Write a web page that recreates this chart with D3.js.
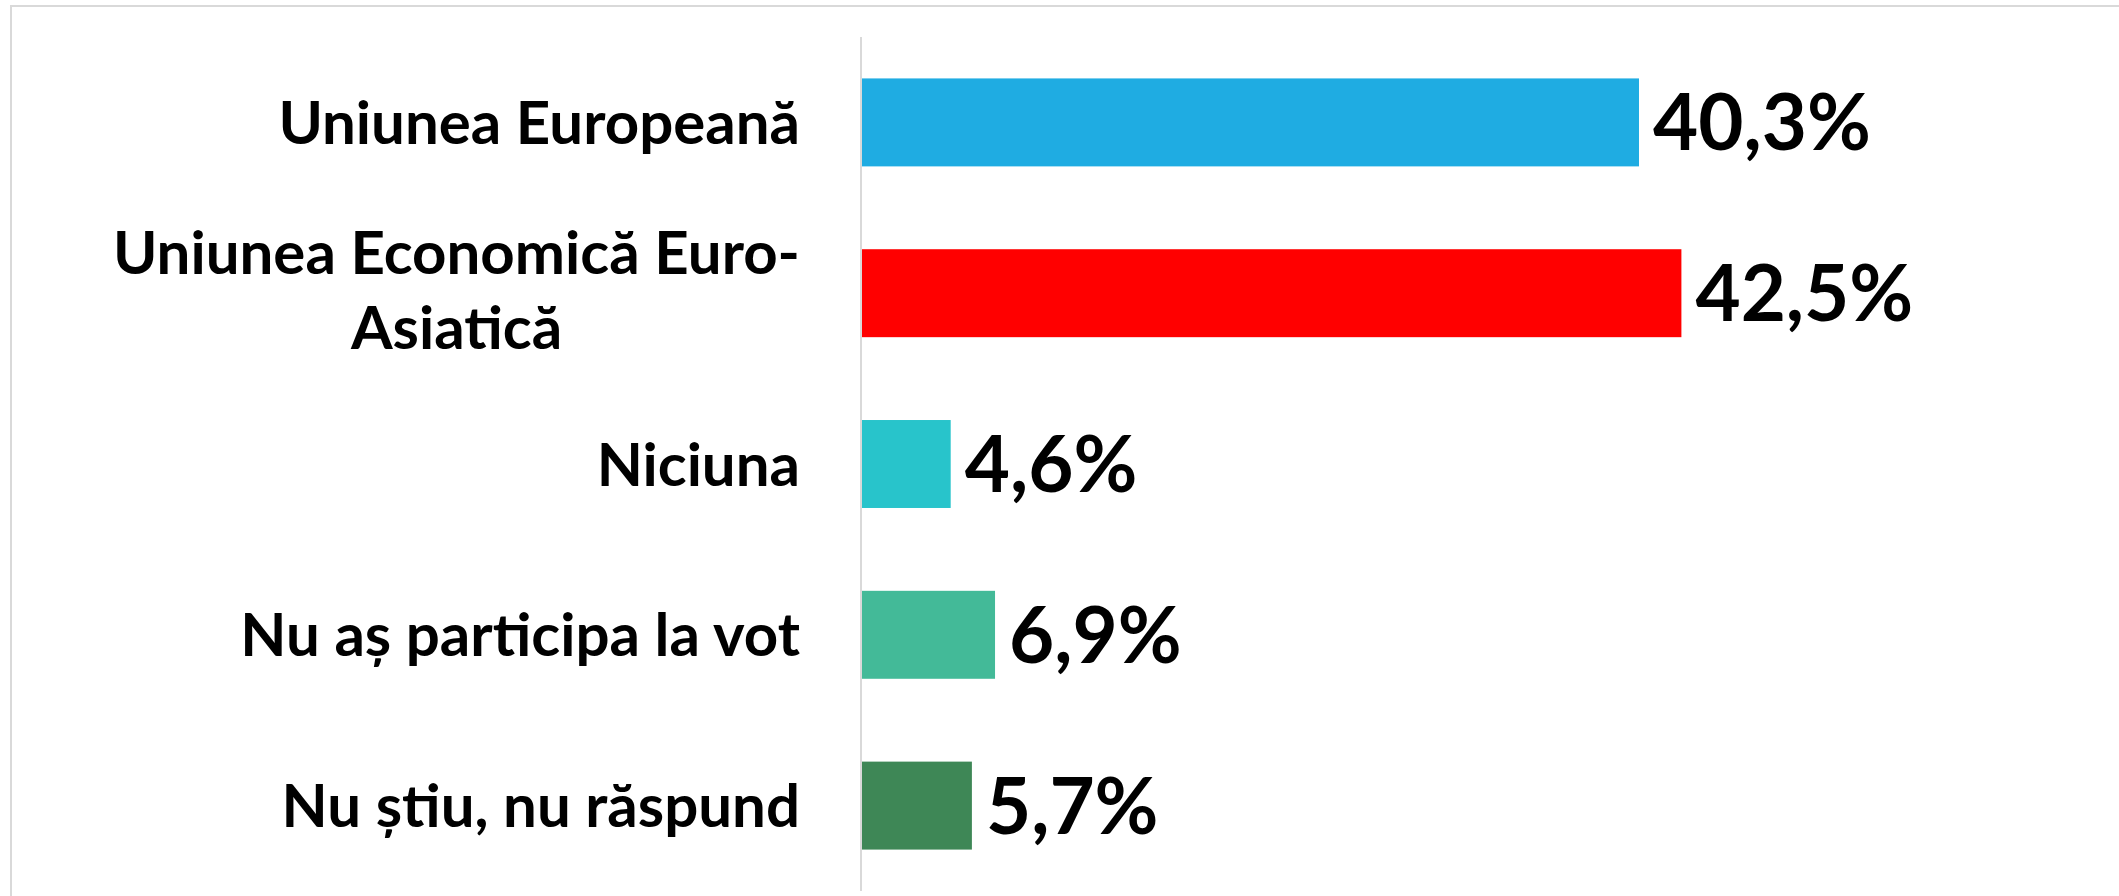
<!DOCTYPE html>
<html>
<head>
<meta charset="utf-8">
<script src="https://cdn.jsdelivr.net/npm/d3@7"></script>
<style>
  body { margin: 0; background: #fff; }
  text { font-family: Lato, "Open Sans", sans-serif; font-weight: bold; fill: #000; }
</style>
</head>
<body>
<svg id="chart" width="2119" height="896"></svg>
<script>
var categories = ["Uniunea Europeană", "Uniunea Economică Euro-Asiatică", "Niciuna", "Nu aș participa la vot", "Nu știu, nu răspund"];
var values = [40.3, 42.5, 4.6, 6.9, 5.7];
var colors = ["#1FACE2", "#FF0000", "#28C4CB", "#43BA98", "#3E8756"];

var svg = d3.select("#chart"),
  axisX = 862,
  yTop = 37, yBottom = 891;

var data = categories.map(function (c, i) {
  return { name: c, value: values[i], color: colors[i] };
});

var x = d3.scaleLinear().domain([0, 50]).range([axisX, 1826]);
var y = d3.scaleBand()
  .domain(categories)
  .range([yTop, yBottom])
  .paddingInner(0.485)
  .paddingOuter(0.2425);

var ro = d3.formatLocale({ decimal: ",", thousands: ".", grouping: [3], currency: ["", "%"] });
var fmt = ro.format(".1f");

// outer frame
svg.append("rect")
  .attr("x", 11).attr("y", 6)
  .attr("width", 2300).attr("height", 1000)
  .attr("fill", "none")
  .attr("stroke", "#d9d9d9")
  .attr("stroke-width", 2);

// bars
svg.selectAll(".bar")
  .data(data)
  .enter().append("rect")
  .attr("class", "bar")
  .attr("x", x(0))
  .attr("y", function (d) { return y(d.name); })
  .attr("width", function (d) { return x(d.value) - x(0); })
  .attr("height", y.bandwidth())
  .attr("fill", function (d) { return d.color; });

// category axis line
svg.append("line")
  .attr("x1", axisX - 1).attr("x2", axisX - 1)
  .attr("y1", yTop).attr("y2", yBottom)
  .attr("stroke", "#d9d9d9")
  .attr("stroke-width", 2);

// value labels
var valueSize = 78;
svg.selectAll(".value")
  .data(data)
  .enter().append("text")
  .attr("class", "value")
  .attr("x", function (d) { return x(d.value) + 14; })
  .attr("y", function (d) { return y(d.name) + y.bandwidth() / 2 + valueSize * 0.36; })
  .style("font-size", valueSize + "px")
  .text(function (d) { return fmt(d.value) + "%"; });

// category labels, wrapped like the original (lines centred in a right-aligned block)
var labelSize = 60, lineGap = 75, maxWidth = 740, labelRight = 800;
var labels = svg.selectAll(".cat")
  .data(data)
  .enter().append("text")
  .attr("class", "cat")
  .attr("text-anchor", "end")
  .style("font-size", labelSize + "px");

labels.each(function (d) {
  var t = d3.select(this);
  var words = d.name.split(/(?<=-)|\s+/).filter(Boolean);
  var lines = [], line = "";
  words.forEach(function (w) {
    var sep = (line === "" || line.endsWith("-")) ? "" : " ";
    var test = line + sep + w;
    t.text(test);
    if (line !== "" && textLen(t) > maxWidth) {
      lines.push(line);
      line = w;
    } else {
      line = test;
    }
  });
  lines.push(line);
  t.text(null);
  var cy = y(d.name) + y.bandwidth() / 2;
  var first = cy - (lines.length - 1) * lineGap / 2 + labelSize * 0.36 - (lines.length - 1) * 3;
  var spans = lines.map(function (l, i) {
    return t.append("tspan")
      .attr("x", labelRight)
      .attr("y", first + i * lineGap)
      .text(l);
  });
  var widths = spans.map(function (s) { return s.node().getComputedTextLength(); });
  var blockW = d3.max(widths);
  spans.forEach(function (s, i) {
    s.attr("x", labelRight - (blockW - widths[i]) / 2);
  });
});

function textLen(sel) {
  return sel.node().getComputedTextLength();
}
</script>
</body>
</html>
